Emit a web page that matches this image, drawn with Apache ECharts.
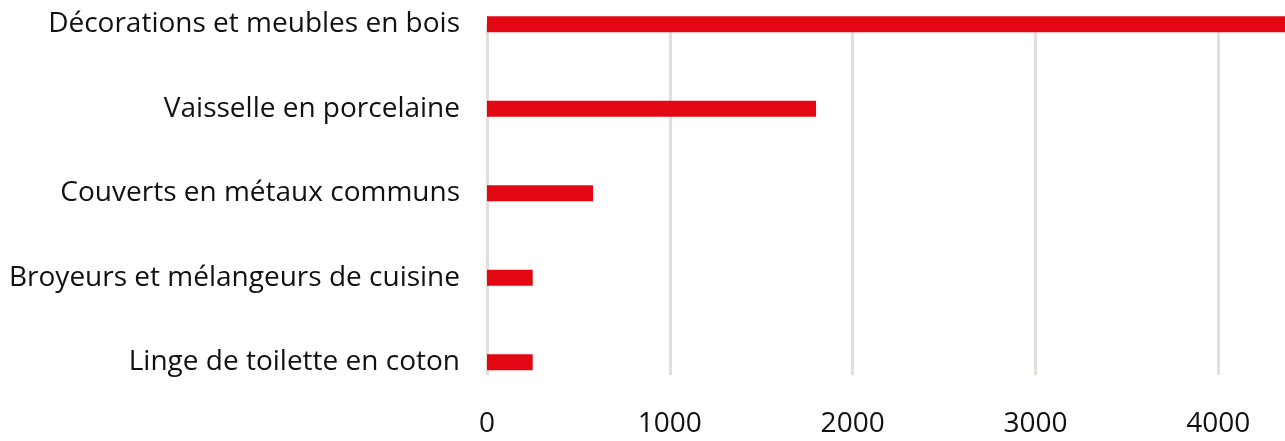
<!DOCTYPE html>
<html>
<head>
<meta charset="utf-8">
<script src="https://cdn.jsdelivr.net/npm/echarts@6/dist/echarts.min.js"></script>
<style>
html,body{margin:0;padding:0;background:#fff;}
#chart{width:1285px;height:441px;}
</style>
</head>
<body>
<div id="chart"></div>
<script>
const categories = [
  "Décorations et meubles en bois",
  "Vaisselle en porcelaine",
  "Couverts en métaux communs",
  "Broyeurs et mélangeurs de cuisine",
  "Linge de toilette en coton"
];
const values = [4400, 1800, 580, 250, 250];
const axisMin = 0;
const axisMax = 4365;
const tickInterval = 1000;

const FONT = "'Open Sans', 'Noto Sans', sans-serif";
const chart = echarts.init(document.getElementById('chart'), null, {renderer: 'canvas'});
chart.setOption({
  animation: false,
  backgroundColor: '#ffffff',
  grid: [
    {left: 487, right: 0, top: -18, height: 422.5, containLabel: false, outerBoundsMode: 'none'},
    {left: 487, right: 0, top: 24, bottom: 66, containLabel: false, outerBoundsMode: 'none'}
  ],
  xAxis: [
    {gridIndex: 0, type: 'value', min: axisMin, max: axisMax, interval: tickInterval, show: false},
    {gridIndex: 1, type: 'value', min: axisMin, max: axisMax, interval: tickInterval,
     axisLine: {show: false}, axisTick: {show: false},
     splitLine: {show: true, showMaxLine: false, lineStyle: {color: '#e2dfda', width: 3}},
     axisLabel: {show: true, margin: 35, fontSize: 28, fontWeight: 500, color: '#111111', fontFamily: FONT,
                 showMaxLabel: false, formatter: function (v) { return String(v); }}}
  ],
  yAxis: [
    {gridIndex: 0, type: 'category', data: categories, inverse: true,
     axisLine: {show: false}, axisTick: {show: false}, splitLine: {show: false},
     axisLabel: {margin: 27, fontSize: 28, fontWeight: 500, color: '#111111', fontFamily: FONT}},
    {gridIndex: 1, type: 'value', show: false}
  ],
  series: [{
    type: 'bar',
    xAxisIndex: 0, yAxisIndex: 0,
    data: values,
    barWidth: 16,
    clip: true,
    itemStyle: {color: '#e30613'},
    z: 5
  }]
});
</script>
</body>
</html>
